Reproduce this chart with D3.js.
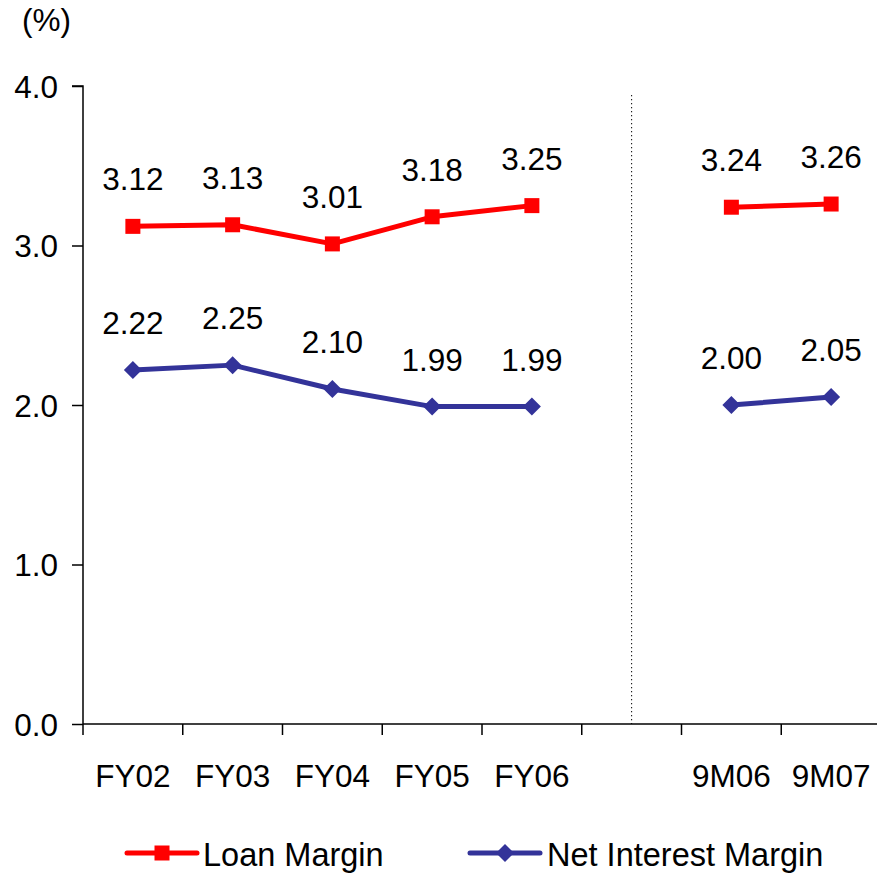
<!DOCTYPE html>
<html><head><meta charset="utf-8">
<script src="https://cdn.jsdelivr.net/npm/d3@7/dist/d3.min.js"></script>
<style>body{margin:0;background:#fff;}svg{display:block;font-family:"Liberation Sans",Arial,sans-serif;}</style>
</head><body>
<svg id="c" width="877" height="874"></svg>
<script>
const categories = ["FY02","FY03","FY04","FY05","FY06","","9M06","9M07"];
const loanMargin = [3.12,3.13,3.01,3.18,3.25,null,3.24,3.26];
const netInterestMargin = [2.22,2.25,2.10,1.99,1.99,null,2.00,2.05];
const yTicks = [0,1,2,3,4];
const seriesNames = ["Loan Margin","Net Interest Margin"];

const svg = d3.select("#c");
const x = d3.scaleBand().domain(categories).range([83,881]).padding(0);
const y = d3.scaleLinear().domain([0,4]).range([724,86]);
const cx = c => x(c) + x.bandwidth()/2;
const fs = 31.5;

// y axis
const yAxis = d3.axisLeft(y).tickValues(yTicks).tickFormat(d3.format(".1f")).tickSize(11).tickPadding(14);
const gy = svg.append("g").attr("transform","translate(83,0)").call(yAxis);
gy.select(".domain").attr("stroke","#000").attr("stroke-width",1.5).attr("d",`M-11,${y(4)}H0V${y(0)}`);
gy.selectAll(".tick line").attr("stroke","#000").attr("stroke-width",1.5);
gy.selectAll(".tick text").attr("font-size",fs).attr("fill","#000").attr("dy","0.36em");

// x axis line
svg.append("line").attr("x1",83).attr("x2",877).attr("y1",y(0)).attr("y2",y(0)).attr("stroke","#000").attr("stroke-width",1.5);
// x ticks at band boundaries
svg.append("g").selectAll("line").data(categories).join("line")
  .attr("x1",d=>x(d)).attr("x2",d=>x(d)).attr("y1",y(0)).attr("y2",y(0)+11)
  .attr("stroke","#000").attr("stroke-width",1.5);
// x labels
svg.append("g").selectAll("text").data(categories).join("text")
  .attr("x",d=>cx(d)).attr("y",787).attr("text-anchor","middle").attr("font-size",fs).attr("fill","#000").text(d=>d);

// divider
svg.append("line").attr("x1",cx("")).attr("x2",cx("")).attr("y1",95).attr("y2",y(0))
  .attr("stroke","#000").attr("stroke-width",1).attr("stroke-dasharray","1.3 2.7");

// unit
svg.append("text").attr("x",22).attr("y",31).attr("font-size",fs).attr("fill","#000").text("(%)");

const series = [
  {name:seriesNames[0], values:loanMargin, color:"#FF0000", marker:"square"},
  {name:seriesNames[1], values:netInterestMargin, color:"#333399", marker:"diamond"}
];
const line = d3.line().defined(d=>d.v!=null).x(d=>cx(d.c)).y(d=>y(d.v));
function marker(g, type, color){
  if(type==="square") g.append("rect").attr("x",-7.5).attr("y",-7.5).attr("width",15).attr("height",15).attr("fill",color);
  else g.append("path").attr("d","M0,-9L9,0L0,9L-9,0Z").attr("fill",color);
}
series.forEach(s=>{
  const pts = categories.map((c,i)=>({c, v:s.values[i]}));
  svg.append("path").datum(pts).attr("d",line).attr("fill","none").attr("stroke",s.color).attr("stroke-width",5).attr("stroke-linejoin","round");
  pts.filter(d=>d.v!=null).forEach(d=>{
    const g = svg.append("g").attr("transform",`translate(${cx(d.c)},${y(d.v)})`);
    marker(g, s.marker, s.color);
    svg.append("text").attr("x",cx(d.c)).attr("y",y(d.v)-36).attr("text-anchor","middle")
      .attr("font-size",fs).attr("fill","#000").text(d3.format(".2f")(d.v));
  });
});

// legend
const legend = [{x:127, tx:203}, {x:470, tx:547}];
series.forEach((s,i)=>{
  const L = legend[i];
  svg.append("line").attr("x1",L.x).attr("x2",L.x+70).attr("y1",853).attr("y2",853)
    .attr("stroke",s.color).attr("stroke-width",5).attr("stroke-linecap","round");
  const g = svg.append("g").attr("transform",`translate(${L.x+35},853)`);
  marker(g, s.marker, s.color);
  svg.append("text").attr("x",L.tx).attr("y",866).attr("font-size",32.5).attr("fill","#000").text(s.name);
});
</script>
</body></html>
